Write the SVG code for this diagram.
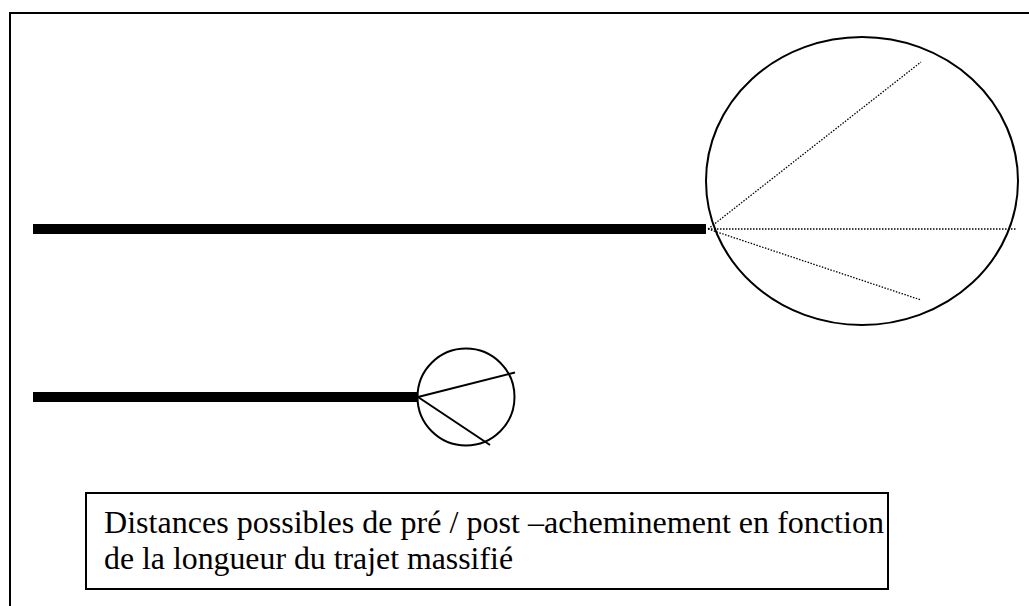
<svg xmlns="http://www.w3.org/2000/svg" width="1029" height="606" viewBox="0 0 1029 606">
<style>
.thick{stroke:#000;stroke-width:10;fill:none}
.outline{stroke:#000;stroke-width:2;fill:none}
.dot{stroke:#000;stroke-width:1.3;stroke-dasharray:1.5 1.5;fill:none}
.thin{stroke:#000;stroke-width:2;fill:none}
.lbl{font-family:"Liberation Serif","Times New Roman",serif;font-size:32px;fill:#000}
</style>
<rect x="0" y="0" width="1029" height="606" fill="#fff"/>
<g id="frame"><rect x="10" y="13" width="1040" height="620" class="outline" stroke-width="2.5"/></g>
<g id="connectors">
<line x1="33" y1="229" x2="706" y2="229" class="thick"/>
<line x1="33" y1="397" x2="418" y2="397" class="thick"/>
<line x1="708" y1="229" x2="921" y2="62" class="dot"/>
<line x1="708" y1="229" x2="1016" y2="229" class="dot"/>
<line x1="708" y1="229" x2="921" y2="300" class="dot"/>
<line x1="418" y1="397" x2="515" y2="372.5" class="thin"/>
<line x1="418" y1="397" x2="490" y2="445" class="thin"/>
</g>
<g id="big-zone"><ellipse cx="862" cy="181" rx="156" ry="144" class="outline"/></g>
<g id="small-zone"><circle cx="466" cy="397" r="48.5" class="outline"/></g>
<g id="caption">
<rect x="86" y="493" width="802" height="96" class="outline"/>
<text class="lbl" x="104" y="533" textLength="780" lengthAdjust="spacingAndGlyphs">Distances possibles de pré / post –acheminement en fonction</text>
<text class="lbl" x="104" y="569" textLength="409" lengthAdjust="spacingAndGlyphs">de la longueur du trajet massifié</text>
</g>
</svg>
